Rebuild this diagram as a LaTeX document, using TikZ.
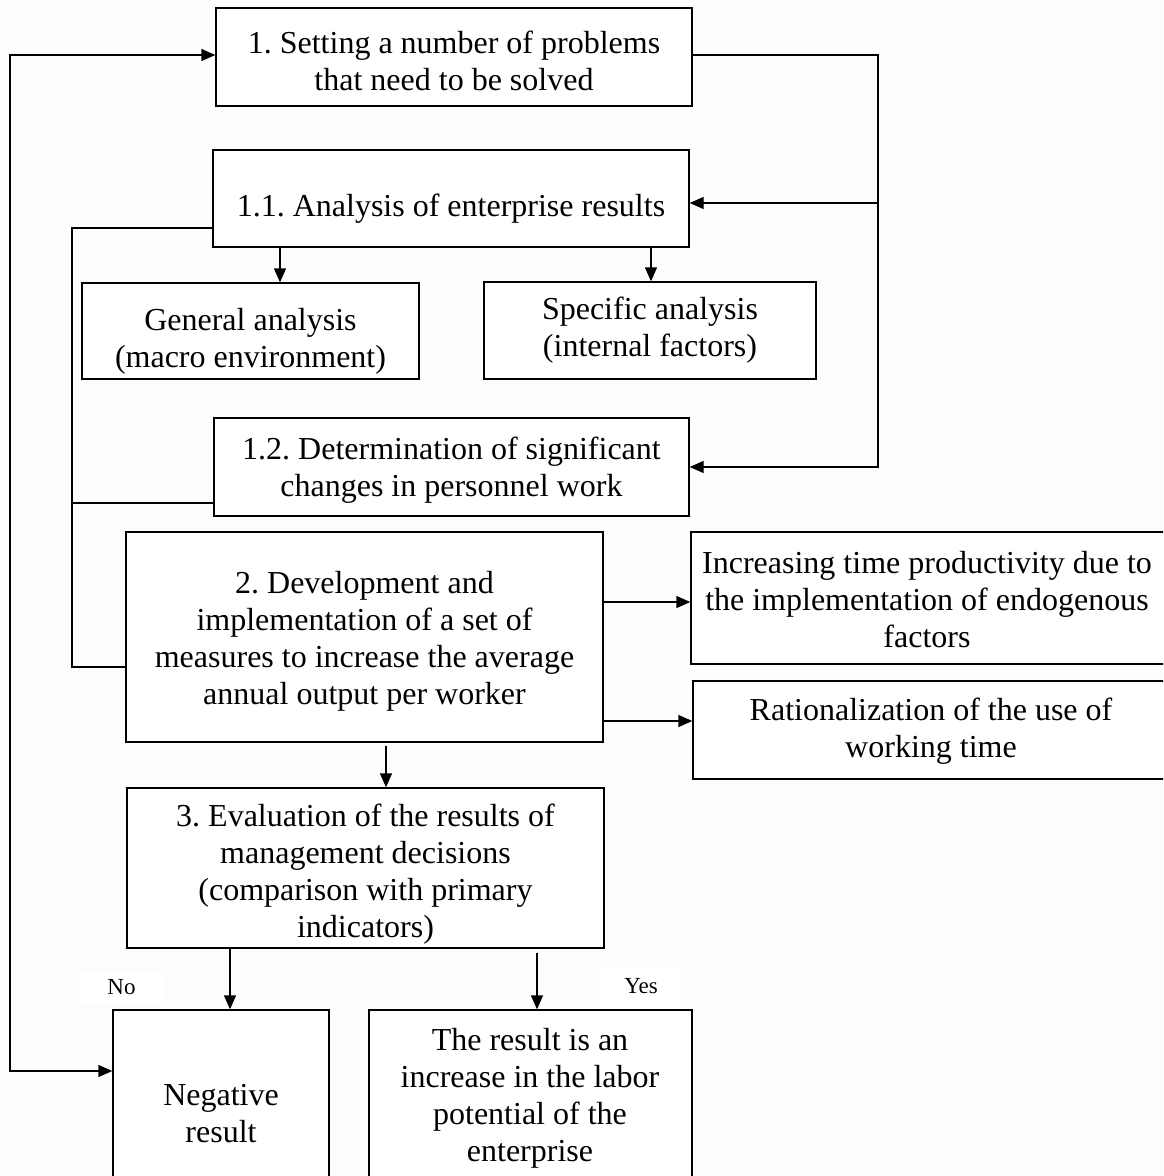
\documentclass[tikz,border=0pt]{standalone}
\usepackage{fontspec}
\setmainfont{Liberation Serif}
\frenchspacing
\usetikzlibrary{arrows.meta,calc}
\definecolor{bgtint}{RGB}{251,253,254}
\tikzset{
  box/.style={draw=black,line width=1.4pt,fill=white,inner sep=0pt,align=center,
    font=\fontsize{32}{37}\selectfont},
  txt/.style={inner sep=0pt,align=center,font=\fontsize{32}{37}\selectfont},
  lbl/.style={fill=white,inner sep=0pt,font=\fontsize{23}{26}\selectfont},
  conn/.style={line width=1.4pt},
  arr/.style={line width=1.4pt,-{Triangle[length=14pt,width=12pt]}},
  arrboth/.style={line width=1.4pt,{Triangle[length=14pt,width=12pt]}-{Triangle[length=14pt,width=12pt]}}
}
\begin{document}
\begin{tikzpicture}[x=1pt,y=-1pt]
\useasboundingbox (0,0) rectangle (1163,1176);
\clip (0,0) rectangle (1163,1176);
\fill[bgtint] (0,0) rectangle (1163,1176);

% boxes
\node[box,minimum width=476pt,minimum height=98pt] (b1) at (454,57) {};
\node[txt] (b1txt) at (454,60.5)
  {1. Setting a number of problems\\that need to be solved};
\node[box,minimum width=476pt,minimum height=97pt] (b11) at (451,198.5) {};
\node[txt] (b11txt) at (451,209) {1.1. Analysis of enterprise results};
\node[box,minimum width=337pt,minimum height=96pt] (gen) at (250.5,331) {};
\node[txt] (gentxt) at (250.5,341) {General analysis\\(macro environment)};
\node[box,minimum width=332pt,minimum height=97pt] (spec) at (650,330.5)
  {Specific analysis\\(internal factors)};
\node[box,minimum width=475pt,minimum height=98pt] (b12) at (451.5,467) {};
\node[txt] (b12txt) at (451.5,470)
  {1.2. Determination of significant\\changes in personnel work};
\node[box,minimum width=477pt,minimum height=210pt] (b2) at (364.5,637) {};
\node[txt] (b2txt) at (364.5,641)
  {2. Development and\\implementation of a set of\\measures to increase the average\\annual output per worker};
\node[box,minimum width=489pt,minimum height=132pt] (inc) at (935.5,598) {};
\node[txt] (inctxt) at (927,600)
  {Increasing time productivity due to\\the implementation of endogenous\\factors};
\node[box,minimum width=487pt,minimum height=98pt] (rat) at (936.5,730) {};
\node[txt] (rattxt) at (931,731)
  {Rationalization of the use of\\working time};
\node[box,minimum width=477pt,minimum height=160pt] (b3) at (365.5,868) {};
\node[txt] (b3txt) at (365.5,874)
  {3. Evaluation of the results of\\management decisions\\(comparison with primary\\indicators)};
\node[box,minimum width=216pt,minimum height=190pt] (neg) at (221,1105) {};
\node[txt] (negtxt) at (221,1114) {Negative\\result};
\node[box,minimum width=323pt,minimum height=190pt] (res) at (530.5,1105) {};
\node[txt] (restxt) at (530,1098)
  {The result is an\\increase in the labor\\potential of the\\enterprise};

% labels
\node[lbl,minimum width=87pt,minimum height=33pt] (no) at (121.5,987) {No};
\node[lbl,minimum width=82pt,minimum height=40pt] (yes) at (641,986) {Yes};

% helper coordinates
\coordinate (Ltop) at (10,55);
\coordinate (Lbot) at (10,1071);
\coordinate (Rtop) at (878,55);
\coordinate (R11) at (878,203);
\coordinate (R12) at (878,467);
\coordinate (La) at (72,228);
\coordinate (Lb) at (72,503);
\coordinate (Lc) at (72,667);
\coordinate (Ag) at (280,0);
\coordinate (As) at (651,0);
\coordinate (A1) at (0,602);
\coordinate (A2) at (0,721);
\coordinate (A3) at (386,0);
\coordinate (A4) at (230,0);
\coordinate (A5) at (537,0);

% connectors
\draw[arrboth] (b1.west |- Ltop) -- (Ltop) -- (Lbot) -- (neg.west |- Lbot);
\draw[arr] (b1.east |- Rtop) -- (Rtop) -- (R12) -- (b12.east |- R12);
\draw[arr] (R11) -- (b11.east |- R11);
\draw[conn] (b11.west |- La) -- (La) -- (Lc) -- (b2.west |- Lc);
\draw[conn] (b12.west |- Lb) -- (Lb);
\draw[arr] (b11.south -| Ag) -- (gen.north -| Ag);
\draw[arr] (b11.south -| As) -- (spec.north -| As);
\draw[arr] (b2.east |- A1) -- (inc.west |- A1);
\draw[arr] (b2.east |- A2) -- (rat.west |- A2);
\draw[arr,shorten <=3pt] (b2.south -| A3) -- (b3.north -| A3);
\draw[arr] (b3.south -| A4) -- (neg.north -| A4);
\draw[arr,shorten <=4pt] (b3.south -| A5) -- (res.north -| A5);
\end{tikzpicture}
\end{document}
